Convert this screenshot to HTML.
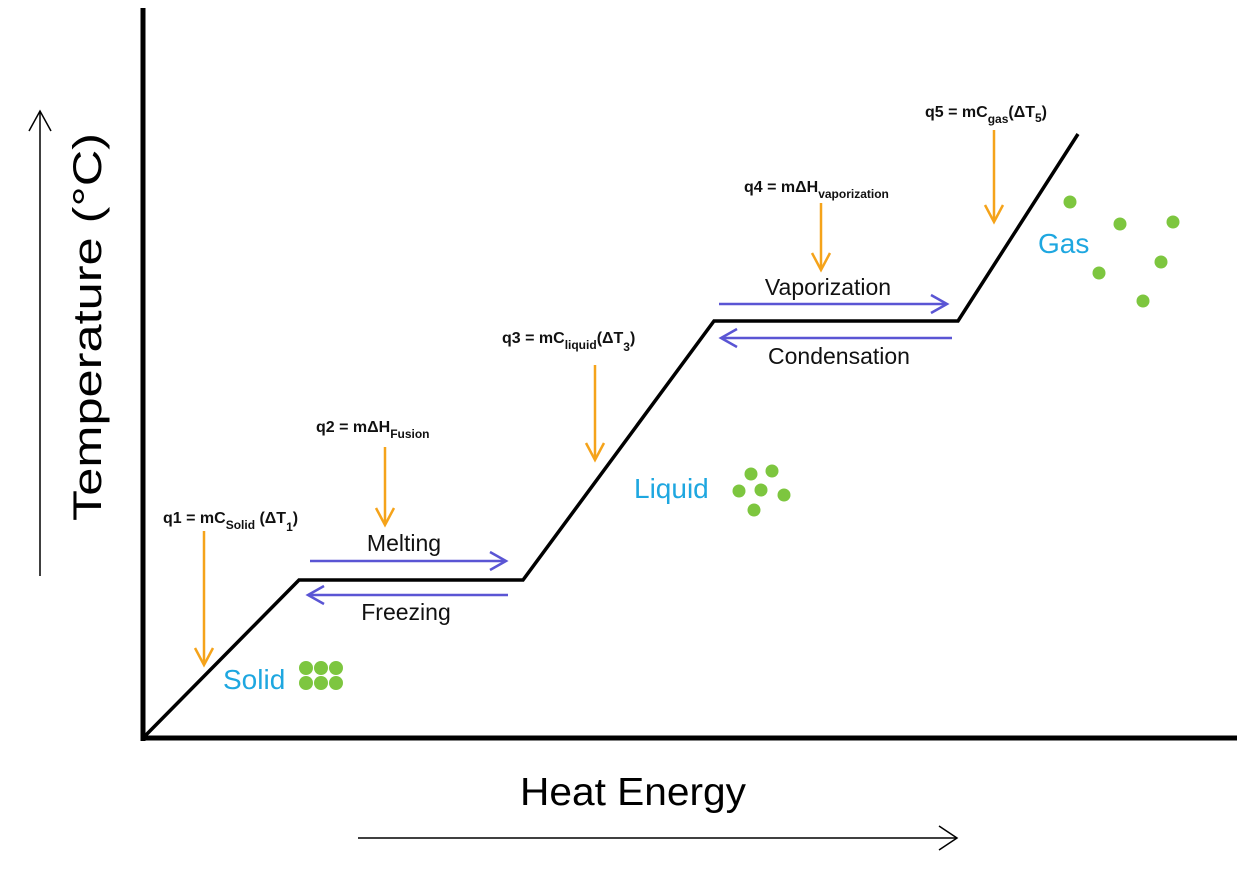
<!DOCTYPE html>
<html><head><meta charset="utf-8"><style>
html,body{margin:0;padding:0;background:#fff;}
svg{display:block;}
.f{font-family:"Liberation Sans",sans-serif;font-weight:bold;font-size:16px;fill:#111;}
.s{font-size:12px;}
.l{font-family:"Liberation Sans",sans-serif;font-size:23px;fill:#111;}
.p{font-family:"Liberation Sans",sans-serif;font-size:28px;fill:#1ea7e0;}
</style></head><body>
<svg width="1245" height="870" viewBox="0 0 1245 870" xmlns="http://www.w3.org/2000/svg">
<g stroke="#000" stroke-width="5" fill="none">
<line x1="143" y1="8" x2="143" y2="741"/>
<line x1="141" y1="738" x2="1237" y2="738"/>
</g>
<polyline points="143,738 299,580 523,580 714,321 958,321 1078,134" fill="none" stroke="#000" stroke-width="3.5" stroke-linejoin="miter"/>
<g stroke="#000" stroke-width="1.5" fill="none">
<line x1="40" y1="576" x2="40" y2="111"/>
<polyline points="29,131 40,111 51,131"/>
<line x1="358" y1="838" x2="957" y2="838"/>
<polyline points="939,826 957,838 939,850"/>
</g>
<text transform="translate(101,327) rotate(-90)" text-anchor="middle" font-family="Liberation Sans,sans-serif" font-size="40" fill="#000" textLength="388" lengthAdjust="spacingAndGlyphs">Temperature (°C)</text>
<text x="633" y="805" text-anchor="middle" font-family="Liberation Sans,sans-serif" font-size="39" fill="#000" textLength="226" lengthAdjust="spacingAndGlyphs">Heat Energy</text>
<g stroke="#f5a31a" stroke-width="2.5" fill="none">
<line x1="204" y1="531" x2="204" y2="665"/><polyline points="195,648 204,665 213,648"/>
<line x1="385" y1="447" x2="385" y2="525"/><polyline points="376,508 385,525 394,508"/>
<line x1="595" y1="365" x2="595" y2="460"/><polyline points="586,443 595,460 604,443"/>
<line x1="821" y1="203" x2="821" y2="270"/><polyline points="812,253 821,270 830,253"/>
<line x1="994" y1="130" x2="994" y2="222"/><polyline points="985,205 994,222 1003,205"/>
</g>
<g stroke="#5a55d4" stroke-width="2.5" fill="none">
<line x1="310" y1="561" x2="506" y2="561"/><polyline points="490,552 506,561 490,570"/>
<line x1="508" y1="595" x2="308" y2="595"/><polyline points="324,586 308,595 324,604"/>
<line x1="719" y1="304" x2="947" y2="304"/><polyline points="931,295 947,304 931,313"/>
<line x1="952" y1="338" x2="721" y2="338"/><polyline points="737,329 721,338 737,347"/>
</g>
<text class="l" x="404" y="551" text-anchor="middle">Melting</text>
<text class="l" x="406" y="620" text-anchor="middle">Freezing</text>
<text class="l" x="828" y="295" text-anchor="middle">Vaporization</text>
<text class="l" x="839" y="364" text-anchor="middle">Condensation</text>
<text class="p" x="223" y="689">Solid</text>
<text class="p" x="634" y="498">Liquid</text>
<text class="p" x="1038" y="253">Gas</text>
<g fill="#7dc63f">
<circle cx="306" cy="668" r="7"/><circle cx="321" cy="668" r="7"/><circle cx="336" cy="668" r="7"/>
<circle cx="306" cy="683" r="7"/><circle cx="321" cy="683" r="7"/><circle cx="336" cy="683" r="7"/>
<circle cx="751" cy="474" r="6.5"/><circle cx="772" cy="471" r="6.5"/><circle cx="739" cy="491" r="6.5"/><circle cx="761" cy="490" r="6.5"/><circle cx="784" cy="495" r="6.5"/><circle cx="754" cy="510" r="6.5"/>
<circle cx="1070" cy="202" r="6.5"/><circle cx="1120" cy="224" r="6.5"/><circle cx="1173" cy="222" r="6.5"/><circle cx="1161" cy="262" r="6.5"/><circle cx="1099" cy="273" r="6.5"/><circle cx="1143" cy="301" r="6.5"/>
</g>
<text class="f" x="163" y="523">q1 = mC<tspan class="s" dy="6">Solid</tspan><tspan dy="-6"> (ΔT</tspan><tspan class="s" dy="8">1</tspan><tspan dy="-8">)</tspan></text>
<text class="f" x="316" y="432">q2 = mΔH<tspan class="s" dy="6">Fusion</tspan></text>
<text class="f" x="502" y="343">q3 = mC<tspan class="s" dy="6">liquid</tspan><tspan dy="-6">(ΔT</tspan><tspan class="s" dy="8">3</tspan><tspan dy="-8">)</tspan></text>
<text class="f" x="744" y="192">q4 = mΔH<tspan class="s" dy="6">vaporization</tspan></text>
<text class="f" x="925" y="117">q5 = mC<tspan class="s" dy="6">gas</tspan><tspan dy="-6">(ΔT</tspan><tspan class="s" dy="5">5</tspan><tspan dy="-5">)</tspan></text>
</svg>
</body></html>
